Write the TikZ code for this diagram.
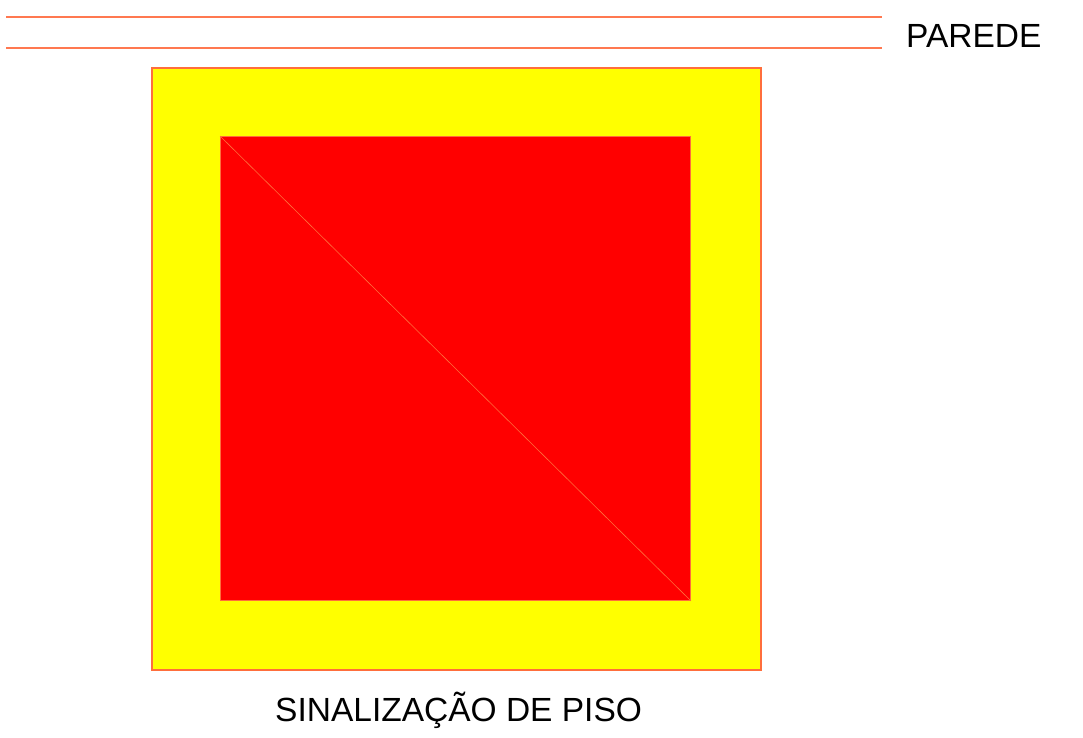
\documentclass[tikz,border=0pt]{standalone}
\usepackage{fontspec}
\setmainfont{Liberation Sans}
\definecolor{wallline}{RGB}{255,120,80}
\definecolor{edge}{RGB}{255,110,60}
\definecolor{fillyellow}{RGB}{255,255,0}
\definecolor{fillred}{RGB}{255,0,0}
\begin{document}
\begin{tikzpicture}[x=1pt,y=-1pt,
  wall/.style={draw=wallline,line width=1.2pt},
  label/.style={font=\fontsize{33.5}{40}\selectfont,inner sep=0pt,anchor=base west,text=black},
  outerbox/.style={fill=fillyellow,draw=edge,line width=1.5pt},
  innerbox/.style={fill=fillred,draw=edge,line width=1pt},
  diag/.style={draw=edge,line width=0.6pt}]
\useasboundingbox (0,0) rectangle (1083,737);
\coordinate (w1a) at (6,17);
\coordinate (w1b) at (882,17);
\coordinate (w2a) at (6,48);
\coordinate (w2b) at (882,48);
\draw[wall] (w1a) -- (w1b);
\draw[wall] (w2a) -- (w2b);
\node[label] (parede) at (906,47) {PAREDE};
\node[outerbox,minimum width=609pt,minimum height=602pt,inner sep=0pt,anchor=north west] (outer) at (151,67) {};
\node[innerbox,minimum width=470pt,minimum height=464pt,inner sep=0pt,anchor=north west] (inner) at (220,136) {};
\draw[diag] (inner.north west) -- (inner.south east);
\node[label] (title) at (275,721) {SINALIZAÇÃO DE PISO};
\end{tikzpicture}
\end{document}
